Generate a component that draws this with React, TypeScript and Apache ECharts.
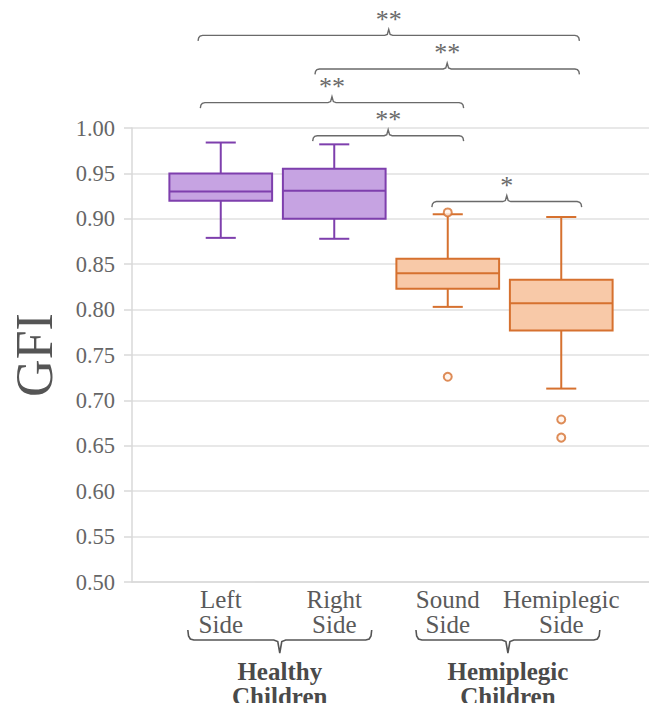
import React, { useEffect, useRef } from "react";
import * as echarts from "echarts";

// Box categories (x axis) and the patient group each belongs to
const categories = ["Left\nSide", "Right\nSide", "Sound\nSide", "Hemiplegic\nSide"];
const groupOfCategory = [0, 0, 1, 1];
const groupLabels = ["Healthy\nChildren", "Hemiplegic\nChildren"];

// Five-number summaries: [lower whisker, Q1, median, Q3, upper whisker]
const leftSide = [0.879, 0.92, 0.93, 0.95, 0.984];
const rightSide = [0.878, 0.9, 0.931, 0.955, 0.982];
const soundSide = [0.803, 0.823, 0.84, 0.856, 0.905];
const hemiplegicSide = [0.713, 0.777, 0.807, 0.833, 0.902];
const boxStats = [leftSide, rightSide, soundSide, hemiplegicSide];

// Outliers: [category index, GFI]
const outliers = [
  [2, 0.907],
  [2, 0.726],
  [3, 0.679],
  [3, 0.659],
];

// Y axis range
const yMin = 0.5;
const yMax = 1.0;
const yStep = 0.05;

// Significance brackets: category span, level on GFI scale, marker
const brackets = [
  { from: 0, to: 3, fromOff: -0.2, toOff: 0.16, level: 1.102, label: "**" },
  { from: 1, to: 3, fromOff: -0.17, toOff: 0.16, level: 1.065, label: "**" },
  { from: 0, to: 2, fromOff: -0.18, toOff: 0.14, level: 1.028, label: "**" },
  { from: 1, to: 2, fromOff: -0.19, toOff: 0.14, level: 0.9915, label: "**" },
  { from: 2, to: 3, fromOff: -0.14, toOff: 0.18, level: 0.919, label: "*" },
];

// Group braces under the category labels
const groupBraces = [
  { from: 0, to: 1, fromOff: -0.29, toOff: 0.33 },
  { from: 2, to: 3, fromOff: -0.28, toOff: 0.34 },
];

const palette = [
  { fill: "#c6a3e2", stroke: "#7e3fad" },
  { fill: "#f8c9a8", stroke: "#d6712f" },
];

const SERIF = "'Liberation Serif', 'Times New Roman', serif";

export default function App() {
  const ref = useRef<HTMLDivElement>(null);

  useEffect(() => {
    if (!ref.current) return;
    const chart = echarts.init(ref.current, undefined, { renderer: "svg" });

    const option: any = {
      animation: false,
      backgroundColor: "#ffffff",
      grid: [
        { left: 128, right: 0, top: 128, bottom: 121 },
        { left: 164, right: 31, top: 128, bottom: 121 },
      ],
      xAxis: [
        {
          type: "value",
          gridIndex: 0,
          min: 0,
          max: 1,
          axisLine: { show: true, lineStyle: { color: "#d9d9d9", width: 1.5 } },
          axisTick: { show: false },
          axisLabel: { show: false },
          splitLine: { show: false },
        },
        {
          type: "category",
          gridIndex: 1,
          data: categories,
          axisLine: { show: false },
          axisTick: { show: false },
          splitLine: { show: false },
          axisLabel: {
            interval: 0,
            margin: 5,
            fontFamily: SERIF,
            fontSize: 25,
            lineHeight: 25,
            color: "#5a5a5a",
          },
        },
      ],
      yAxis: [
        {
          type: "value",
          gridIndex: 0,
          min: yMin,
          max: yMax,
          interval: yStep,
          name: "GFI",
          nameLocation: "middle",
          nameGap: 72,
          nameTextStyle: { fontFamily: SERIF, fontSize: 52, color: "#555555" },
          axisLine: { show: true, lineStyle: { color: "#d9d9d9", width: 1.5 } },
          axisTick: { show: true, length: 8, lineStyle: { color: "#d9d9d9", width: 1.5 } },
          axisLabel: {
            margin: 17,
            fontFamily: SERIF,
            fontSize: 22.5,
            color: "#666666",
            formatter: (v: number) => v.toFixed(2),
          },
          splitLine: { show: true, lineStyle: { color: "#e0e0e0", width: 1.5 } },
        },
        {
          type: "value",
          gridIndex: 1,
          min: yMin,
          max: yMax,
          show: false,
          splitLine: { show: false },
        },
      ],
      series: [
        {
          type: "custom",
          xAxisIndex: 1,
          yAxisIndex: 1,
          data: boxStats.map((s, i) => [i, ...s]),
          encode: { x: 0, y: [1, 2, 3, 4, 5] },
          renderItem: (params: any, api: any) => {
            const idx = api.value(0);
            const low = api.coord([idx, api.value(1)]);
            const q1 = api.coord([idx, api.value(2)]);
            const med = api.coord([idx, api.value(3)]);
            const q3 = api.coord([idx, api.value(4)]);
            const high = api.coord([idx, api.value(5)]);
            const band = api.size([1, 0])[0];
            const bw = band * 0.905;
            const cw = band * 0.265;
            const x = low[0];
            const c = palette[groupOfCategory[idx]];
            const ls = { stroke: c.stroke, lineWidth: 2, fill: null };
            return {
              type: "group",
              children: [
                { type: "line", shape: { x1: x, y1: high[1], x2: x, y2: q3[1] }, style: ls },
                { type: "line", shape: { x1: x, y1: q1[1], x2: x, y2: low[1] }, style: ls },
                { type: "line", shape: { x1: x - cw / 2, y1: high[1], x2: x + cw / 2, y2: high[1] }, style: ls },
                { type: "line", shape: { x1: x - cw / 2, y1: low[1], x2: x + cw / 2, y2: low[1] }, style: ls },
                {
                  type: "rect",
                  shape: { x: x - bw / 2, y: q3[1], width: bw, height: q1[1] - q3[1] },
                  style: { fill: c.fill, stroke: c.stroke, lineWidth: 2 },
                },
                { type: "line", shape: { x1: x - bw / 2, y1: med[1], x2: x + bw / 2, y2: med[1] }, style: ls },
              ],
            };
          },
          z: 2,
        },
        {
          type: "scatter",
          xAxisIndex: 1,
          yAxisIndex: 1,
          data: outliers,
          symbol: "circle",
          symbolSize: 8,
          itemStyle: { color: "#fff3ea", borderColor: palette[1].stroke, borderWidth: 2 },
          z: 3,
        },
      ],
    };

    chart.setOption(option);

    // Annotation layer positioned through the chart's own axes
    const px = (i: number) => chart.convertToPixel({ xAxisIndex: 1 }, i) as number;
    const py = (v: number) => chart.convertToPixel({ yAxisIndex: 1 }, v) as number;
    const band = px(1) - px(0);
    const catX = (i: number, off: number) => px(i) + off * band;
    const axisY = py(yMin);

    const graphics: any[] = [];
    const bracketColor = "#6a6a6a";

    brackets.forEach((b) => {
      const x0 = catX(b.from, b.fromOff);
      const x1 = catX(b.to, b.toOff);
      const xm = (x0 + x1) / 2;
      const y = py(b.level);
      graphics.push({
        type: "polyline",
        shape: {
          points: [
            [x0, y + 5.5],
            [x0 + 0.6, y + 2.4],
            [x0 + 2, y + 0.7],
            [x0 + 4.5, y],
            [xm - 4, y],
            [xm - 1.4, y - 1],
            [xm, y - 6],
            [xm + 1.4, y - 1],
            [xm + 4, y],
            [x1 - 4.5, y],
            [x1 - 2, y + 0.7],
            [x1 - 0.6, y + 2.4],
            [x1, y + 5.5],
          ],
        },
        style: { stroke: bracketColor, lineWidth: 1.4, fill: null },
        z: 10,
      });
      graphics.push({
        type: "text",
        x: xm,
        y: y - 3,
        style: {
          text: b.label,
          fontFamily: SERIF,
          fontSize: 26,
          fill: "#6a6a6a",
          align: "center",
          verticalAlign: "bottom",
        },
        z: 10,
      });
    });

    groupBraces.forEach((g, gi) => {
      const x0 = catX(g.from, g.fromOff);
      const x1 = catX(g.to, g.toOff);
      const xm = (x0 + x1) / 2;
      const y = axisY + 58;
      graphics.push({
        type: "polyline",
        shape: {
          points: [
            [x0, y - 10],
            [x0 + 0.7, y - 4],
            [x0 + 2.5, y - 1],
            [x0 + 6, y],
            [xm - 6, y],
            [xm - 2, y + 1.5],
            [xm, y + 13],
            [xm + 2, y + 1.5],
            [xm + 6, y],
            [x1 - 6, y],
            [x1 - 2.5, y - 1],
            [x1 - 0.7, y - 4],
            [x1, y - 10],
          ],
        },
        style: { stroke: "#555555", lineWidth: 1.6, fill: null },
        z: 10,
      });
      graphics.push({
        type: "text",
        x: xm,
        y: axisY + 77,
        style: {
          text: groupLabels[gi],
          fontFamily: SERIF,
          fontSize: 25,
          fontWeight: "bold",
          lineHeight: 25,
          fill: "#4a4a4a",
          align: "center",
          verticalAlign: "top",
        },
        z: 10,
      });
    });

    chart.setOption({ graphic: graphics });

    return () => chart.dispose();
  }, []);

  return (
    <div
      ref={ref}
      style={{ position: "fixed", left: 0, top: 0, width: 649, height: 703, background: "#fff" }}
    />
  );
}
